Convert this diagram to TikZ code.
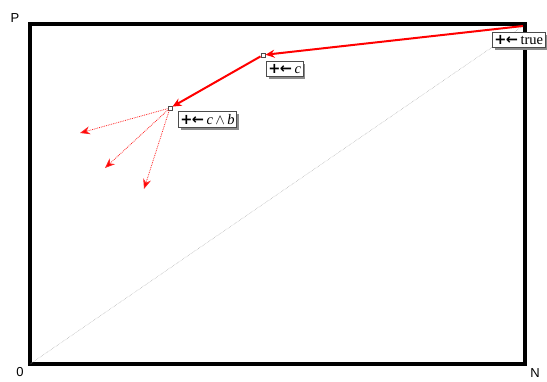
\documentclass[tikz,border=0pt]{standalone}
\usepackage{fontspec}
\setmainfont{Liberation Serif}
\newfontfamily\labsans{Liberation Sans}
\newfontfamily\arrfont{DejaVu Sans}
\usetikzlibrary{arrows.meta,shadows}
\newcommand{\plarr}{{\arrfont\bfseries +\kern-0.5pt←}\,}
\begin{document}
\begin{tikzpicture}[x=1pt,y=-1pt,
  lab/.style={draw=black!70,fill=white,line width=0.6pt,inner xsep=2pt,inner ysep=3pt,font=\fontsize{14.5}{15}\selectfont,drop shadow={shadow xshift=2.5pt,shadow yshift=-2.5pt,fill=black!45,opacity=1},anchor=north west},
  pt/.style={draw=black!70,fill=white,line width=0.5pt,inner sep=0pt,minimum size=4.5pt},
  axl/.style={font=\labsans\fontsize{13}{14}\selectfont},
  main/.style={red,line width=2pt,-{Stealth[length=9pt,width=8pt]}},
  opt/.style={red!85,line width=0.8pt,densely dotted,-{Stealth[length=10pt,width=8pt,fill=red]}}]
\useasboundingbox (0,0) rectangle (547,381);
\coordinate (o) at (30,364);
\coordinate (tr) at (523,26);
\draw[line width=3.5pt] (30,24) -- (30,364) -- (525,364) -- (525,24) -- cycle;
\draw[gray!70,line width=0.5pt,densely dotted] (o) -- (tr);
\node[pt] (p2) at (263,55) {};
\node[pt] (p3) at (170,108) {};
\coordinate (p1) at (523,26);
\coordinate (e1) at (80,133);
\coordinate (e2) at (105,168);
\coordinate (e3) at (144,189);
\draw[main] (p1) -- (p2);
\draw[main] (p2) -- (p3);
\draw[opt] (p3) -- (e1);
\draw[opt] (p3) -- (e2);
\draw[opt] (p3) -- (e3);
\node[lab] (l1) at (492,32) {\plarr true};
\node[lab] (l2) at (266,61) {\plarr\textit{c}};
\node[lab] (l3) at (178,111) {\plarr\textit{c}\,$\wedge$\,\textit{b}};
\node[axl] (P) at (15,18) {P};
\node[axl] (Z) at (20,372) {0};
\node[axl] (N) at (535,373) {N};
\end{tikzpicture}
\end{document}
